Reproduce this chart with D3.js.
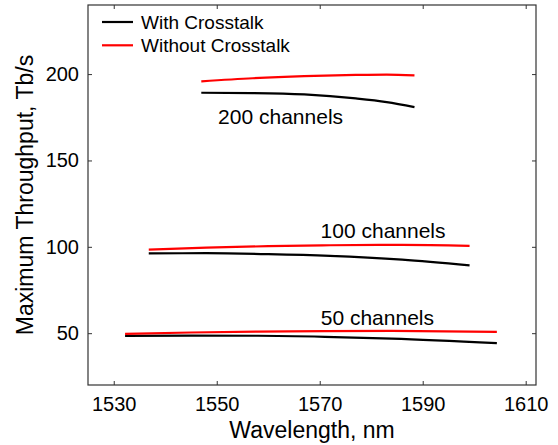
<!DOCTYPE html>
<html>
<head>
<meta charset="utf-8">
<script src="https://cdn.jsdelivr.net/npm/d3@7"></script>
<style>
  html, body { margin: 0; padding: 0; background: #fff; }
  svg { display: block; font-family: "Liberation Sans", Arial, Helvetica, sans-serif; }
</style>
</head>
<body>
<svg id="chart" width="558" height="445"></svg>
<script>
// Wavelength sample points (nm) for each channel-count group
const wl200 = [1547, 1557, 1567, 1577, 1583, 1588.4];
const wl100 = [1536.8, 1548, 1560, 1572, 1586, 1599.1];
const wl50  = [1532.2, 1545, 1558, 1571, 1584, 1604.4];

// Maximum throughput (Tb/s) with crosstalk
const with200 = [189.2, 189.0, 188.2, 185.9, 183.8, 180.9];
const with100 = [96.2, 96.3, 95.8, 94.8, 92.6, 89.3];
const with50  = [48.4, 48.6, 48.5, 47.9, 46.9, 44.2];

// Maximum throughput (Tb/s) without crosstalk
const without200 = [195.8, 197.6, 198.8, 199.5, 199.7, 199.3];
const without100 = [98.4, 99.5, 100.4, 100.9, 101.1, 100.6];
const without50  = [49.6, 50.4, 50.9, 51.2, 51.3, 50.8];

const xTicks = [1530, 1550, 1570, 1590, 1610];
const yTicks = [50, 100, 150, 200];
const groupLabels = ["200 channels", "100 channels", "50 channels"];
const legendLabels = ["With Crosstalk", "Without Crosstalk"];
const seriesColors = ["#000000", "#ff0000"];

const svg = d3.select("#chart");
const margin = { left: 88, right: 22, top: 5, bottom: 60 };
const W = 558, H = 445;
const x = d3.scaleLinear().domain([1525, 1612]).range([margin.left, W - margin.right]);
const y = d3.scaleLinear().domain([20, 240]).range([H - margin.bottom, margin.top]);

const x0 = x.range()[0], x1 = x.range()[1];
const y0 = y.range()[0], y1 = y.range()[1];

// Axes with inward ticks, mirrored on top/right
const tickLen = 4;
const axBottom = svg.append("g").attr("transform", `translate(0,${y0})`)
  .call(d3.axisBottom(x).tickValues(xTicks).tickSizeInner(-tickLen).tickSizeOuter(0).tickPadding(12).tickFormat(d3.format("d")));
const axLeft = svg.append("g").attr("transform", `translate(${x0},0)`)
  .call(d3.axisLeft(y).tickValues(yTicks).tickSizeInner(-tickLen).tickSizeOuter(0).tickPadding(9).tickFormat(d3.format("d")));
const axTop = svg.append("g").attr("transform", `translate(0,${y1})`)
  .call(d3.axisTop(x).tickValues(xTicks).tickSizeInner(-tickLen).tickSizeOuter(0).tickFormat(""));
const axRight = svg.append("g").attr("transform", `translate(${x1},0)`)
  .call(d3.axisRight(y).tickValues(yTicks).tickSizeInner(-tickLen).tickSizeOuter(0).tickFormat(""));

[axBottom, axLeft, axTop, axRight].forEach(g => {
  g.select(".domain").remove();
  g.selectAll(".tick line").attr("stroke", "#333").attr("stroke-width", 1);
  g.selectAll(".tick text").attr("fill", "#000").style("font-size", "20px").style("font-family", "inherit");
});

// Plot frame
svg.append("rect")
  .attr("x", x0).attr("y", y1)
  .attr("width", x1 - x0).attr("height", y0 - y1)
  .attr("fill", "none").attr("stroke", "#333").attr("stroke-width", 1.2);

// Curves
const line = d3.line().x(d => x(d[0])).y(d => y(d[1])).curve(d3.curveMonotoneX);
const curves = [
  [wl200, with200, 0], [wl200, without200, 1],
  [wl100, with100, 0], [wl100, without100, 1],
  [wl50, with50, 0],  [wl50, without50, 1]
];
curves.forEach(([wl, vals, s]) => {
  svg.append("path")
    .datum(wl.map((w, i) => [w, vals[i]]))
    .attr("d", line)
    .attr("fill", "none")
    .attr("stroke", seriesColors[s])
    .attr("stroke-width", 2.2);
});

// Group labels, anchored in data coordinates (wavelength, throughput)
const labelPos = [[1562.4, 170.9], [1582.3, 105.2], [1581.2, 54.9]];
groupLabels.forEach((t, i) => {
  svg.append("text")
    .attr("x", x(labelPos[i][0])).attr("y", y(labelPos[i][1]))
    .attr("text-anchor", "middle")
    .style("font-size", "21px")
    .text(t);
});

// Legend
legendLabels.forEach((t, i) => {
  const ly = 22 + i * 23.3;
  svg.append("line")
    .attr("x1", 102).attr("x2", 133).attr("y1", ly).attr("y2", ly)
    .attr("stroke", seriesColors[i]).attr("stroke-width", 2.2);
  svg.append("text")
    .attr("x", 141).attr("y", ly + 6.5)
    .style("font-size", "19px")
    .text(t);
});

// Axis titles
svg.append("text")
  .attr("x", (x0 + x1) / 2).attr("y", 438)
  .attr("text-anchor", "middle")
  .style("font-size", "23px")
  .text("Wavelength, nm");
svg.append("text")
  .attr("transform", `translate(33,${(y0 + y1) / 2}) rotate(-90)`)
  .attr("text-anchor", "middle")
  .style("font-size", "23px")
  .text("Maximum Throughput, Tb/s");
</script>
</body>
</html>
